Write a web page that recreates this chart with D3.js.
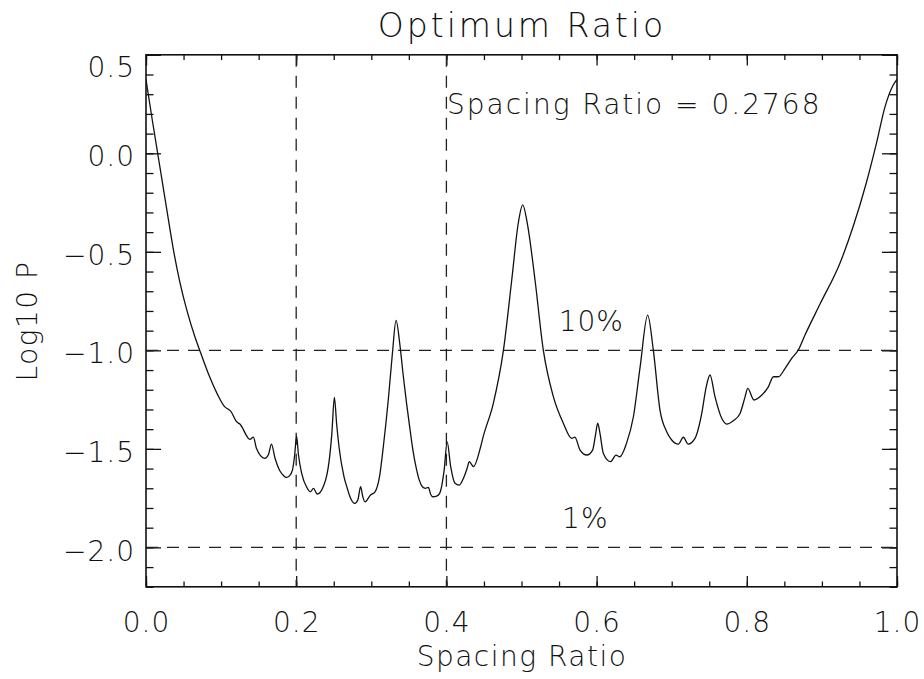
<!DOCTYPE html>
<html>
<head>
<meta charset="utf-8">
<script src="https://cdn.jsdelivr.net/npm/d3@7"></script>
<style>
  html, body { margin: 0; padding: 0; background: #fff; }
  svg { display: block; }
  text { font-family: "DejaVu Sans", sans-serif; font-weight: 200; fill: #111; }
</style>
</head>
<body>
<svg id="chart" width="924" height="679"></svg>
<script>
// Spacing ratio (x) against log10 of the false-alarm probability (y)
const spacingRatio = [
  0.000, 0.008, 0.0164, 0.023, 0.030, 0.037, 0.045, 0.055, 0.065, 0.073,
  0.085, 0.095, 0.105, 0.110, 0.113, 0.1205, 0.125, 0.1385, 0.143, 0.147,
  0.158, 0.163, 0.167, 0.172, 0.178, 0.183, 0.187, 0.191, 0.195, 0.198,
  0.2005, 0.203, 0.2073, 0.214, 0.219, 0.223, 0.228, 0.232, 0.236, 0.241,
  0.244, 0.2475, 0.2508, 0.254, 0.257, 0.2636, 0.268, 0.2716, 0.278, 0.282,
  0.2858, 0.2885, 0.2916, 0.299, 0.305, 0.311, 0.316, 0.3226, 0.328, 0.333,
  0.338, 0.3426, 0.347, 0.3515, 0.356, 0.360, 0.364, 0.368, 0.372, 0.376,
  0.379, 0.382, 0.387, 0.391, 0.397, 0.401, 0.4057, 0.4115, 0.417, 0.4226,
  0.4275, 0.4305, 0.436, 0.4456, 0.449, 0.4625, 0.476, 0.487, 0.4957, 0.5016,
  0.5077, 0.518, 0.529, 0.5424, 0.5557, 0.5668, 0.571, 0.578, 0.587, 0.5947,
  0.5985, 0.6015, 0.6045, 0.609, 0.6187, 0.6258, 0.631, 0.6398, 0.649, 0.658,
  0.668, 0.6755, 0.6844, 0.6933, 0.700, 0.7088, 0.7155, 0.722, 0.731, 0.740,
  0.7457, 0.751, 0.7577, 0.7666, 0.7732, 0.782, 0.791, 0.7977, 0.8012, 0.8096,
  0.820, 0.8287, 0.8354, 0.842, 0.851, 0.860, 0.8686, 0.8775, 0.8975, 0.924,
  0.9415, 0.959, 0.9726, 0.984, 0.995, 1.000
];
const log10P = [
  0.375, 0.178, -0.02, -0.175, -0.34, -0.50, -0.652, -0.805, -0.93, -1.015,
  -1.137, -1.222, -1.287, -1.300, -1.310, -1.362, -1.374, -1.452, -1.440, -1.497,
  -1.548, -1.530, -1.476, -1.550, -1.610, -1.635, -1.645, -1.637, -1.608, -1.530,
  -1.435, -1.530, -1.624, -1.695, -1.718, -1.700, -1.729, -1.720, -1.692, -1.630,
  -1.557, -1.420, -1.239, -1.380, -1.489, -1.641, -1.700, -1.743, -1.777, -1.760,
  -1.692, -1.740, -1.769, -1.734, -1.718, -1.640, -1.489, -1.252, -1.020, -0.848,
  -0.970, -1.130, -1.270, -1.400, -1.520, -1.600, -1.660, -1.692, -1.700, -1.695,
  -1.730, -1.743, -1.740, -1.726, -1.608, -1.464, -1.590, -1.675, -1.684, -1.650,
  -1.600, -1.565, -1.590, -1.489, -1.438, -1.269, -0.998, -0.643, -0.355, -0.262,
  -0.355, -0.643, -0.998, -1.235, -1.370, -1.447, -1.440, -1.506, -1.531, -1.506,
  -1.430, -1.370, -1.421, -1.523, -1.565, -1.532, -1.540, -1.472, -1.337, -1.083,
  -0.821, -0.998, -1.303, -1.413, -1.455, -1.476, -1.441, -1.476, -1.447, -1.320,
  -1.190, -1.125, -1.236, -1.345, -1.374, -1.357, -1.320, -1.236, -1.193, -1.252,
  -1.227, -1.185, -1.134, -1.134, -1.091, -1.040, -0.998, -0.922, -0.765, -0.558,
  -0.373, -0.152, 0.050, 0.236, 0.347, 0.375
];

// Axis ticks
const xMajorTicks = [0.0, 0.2, 0.4, 0.6, 0.8, 1.0];
const xTickLabels = ["0.0", "0.2", "0.4", "0.6", "0.8", "1.0"];
const yMajorTicks = [0.5, 0.0, -0.5, -1.0, -1.5, -2.0];
const yTickLabels = ["0.5", "0.0", "\u22120.5", "\u22121.0", "\u22121.5", "\u22122.0"];

// Reference lines: significance levels and the two boundary ratios
const levelValues = [-1.0, -2.0];
const levelLabels = ["10%", "1%"];
const levelLabelX = [0.593, 0.585];
const boundaryRatios = [0.2, 0.4];

const titleText = "Optimum Ratio";
const xTitle = "Spacing Ratio";
const yTitle = "Log10 P";
const resultText = "Spacing Ratio = 0.2768";

const svg = d3.select("#chart");
const plotLeft = 146, plotRight = 897, plotTop = 54.8, plotBottom = 586.8;
const x = d3.scaleLinear().domain([0, 1]).range([plotLeft, plotRight]);
const y = d3.scaleLinear().domain([-2.2, 0.5]).range([plotBottom, plotTop]);

const xMinor = d3.range(0, 1.0001, 0.05).map(v => +v.toFixed(2));
const yMinor = d3.range(-2.2, 0.5001, 0.1).map(v => +v.toFixed(1));

const axisStyle = g => {
  g.select(".domain").remove();
  g.selectAll("line").attr("stroke", "#111").attr("stroke-width", 1.3);
};
const labelStyle = sel => sel.attr("font-size", 28).attr("letter-spacing", 1)
  .attr("fill", "#111").attr("font-family", "DejaVu Sans").attr("font-weight", 200);

// Bottom axis with labels
svg.append("g").attr("transform", `translate(0,${plotBottom})`)
  .call(d3.axisBottom(x).tickValues(xMajorTicks).tickSize(-10.7).tickPadding(25)
    .tickFormat((d, i) => xTickLabels[i]))
  .call(axisStyle)
  .call(g => g.selectAll("text").call(labelStyle));
svg.append("g").attr("transform", `translate(0,${plotBottom})`)
  .call(d3.axisBottom(x).tickValues(xMinor).tickSize(-5.3).tickFormat(""))
  .call(axisStyle);
// Top axis
svg.append("g").attr("transform", `translate(0,${plotTop})`)
  .call(d3.axisTop(x).tickValues(xMajorTicks).tickSize(-10.7).tickFormat(""))
  .call(axisStyle);
svg.append("g").attr("transform", `translate(0,${plotTop})`)
  .call(d3.axisTop(x).tickValues(xMinor).tickSize(-5.3).tickFormat(""))
  .call(axisStyle);
// Left axis with labels
svg.append("g").attr("transform", `translate(${plotLeft},0)`)
  .call(d3.axisLeft(y).tickValues(yMajorTicks).tickSize(-15).tickPadding(11)
    .tickFormat((d, i) => yTickLabels[i]))
  .call(axisStyle)
  .call(g => g.selectAll("text").call(labelStyle)
    .attr("dy", d => d === 0.5 ? "0.78em" : "0.45em"));
svg.append("g").attr("transform", `translate(${plotLeft},0)`)
  .call(d3.axisLeft(y).tickValues(yMinor).tickSize(-7.5).tickFormat(""))
  .call(axisStyle);
// Right axis
svg.append("g").attr("transform", `translate(${plotRight},0)`)
  .call(d3.axisRight(y).tickValues(yMajorTicks).tickSize(-15).tickFormat(""))
  .call(axisStyle);
svg.append("g").attr("transform", `translate(${plotRight},0)`)
  .call(d3.axisRight(y).tickValues(yMinor).tickSize(-7.5).tickFormat(""))
  .call(axisStyle);

// Dashed reference lines
const dashes = "12,9";
svg.append("g").selectAll("line").data(levelValues).join("line")
  .attr("x1", plotLeft).attr("x2", plotRight)
  .attr("y1", d => y(d)).attr("y2", d => y(d))
  .attr("stroke", "#222").attr("stroke-width", 1.3).attr("stroke-dasharray", dashes);
svg.append("g").selectAll("line").data(boundaryRatios).join("line")
  .attr("x1", d => x(d)).attr("x2", d => x(d))
  .attr("y1", plotTop).attr("y2", plotBottom)
  .attr("stroke", "#222").attr("stroke-width", 1.3).attr("stroke-dasharray", dashes);

// Plot frame
svg.append("rect").attr("x", plotLeft).attr("y", plotTop)
  .attr("width", plotRight - plotLeft).attr("height", plotBottom - plotTop)
  .attr("fill", "none").attr("stroke", "#111").attr("stroke-width", 1.6);

// Probability curve
svg.append("clipPath").attr("id", "plotClip").append("rect")
  .attr("x", plotLeft).attr("y", plotTop)
  .attr("width", plotRight - plotLeft).attr("height", plotBottom - plotTop);
const line = d3.line()
  .x((d, i) => x(spacingRatio[i]))
  .y(d => y(d))
  .curve(d3.curveMonotoneX);
svg.append("path").datum(log10P)
  .attr("clip-path", "url(#plotClip)")
  .attr("d", line)
  .attr("fill", "none").attr("stroke", "#111").attr("stroke-width", 1.3)
  .attr("stroke-linejoin", "round");

// Level annotations
svg.append("g").selectAll("text").data(levelLabels).join("text")
  .attr("x", (d, i) => x(levelLabelX[i]))
  .attr("y", (d, i) => y(levelValues[i]) - 19)
  .attr("text-anchor", "middle")
  .attr("font-size", 28).attr("letter-spacing", 1)
  .text(d => d);

// Result annotation
svg.append("text").attr("x", 447).attr("y", 114)
  .attr("font-size", 28).attr("letter-spacing", 2)
  .text(resultText);

// Titles
svg.append("text").attr("x", 522).attr("y", 37).attr("text-anchor", "middle")
  .attr("font-size", 33).attr("letter-spacing", 3).text(titleText);
svg.append("text").attr("x", 522).attr("y", 666).attr("text-anchor", "middle")
  .attr("font-size", 28).attr("letter-spacing", 1.5).text(xTitle);
svg.append("text").attr("transform", "translate(37,321) rotate(-90)")
  .attr("text-anchor", "middle")
  .attr("font-size", 28).attr("letter-spacing", 1.5).text(yTitle);
</script>
</body>
</html>
